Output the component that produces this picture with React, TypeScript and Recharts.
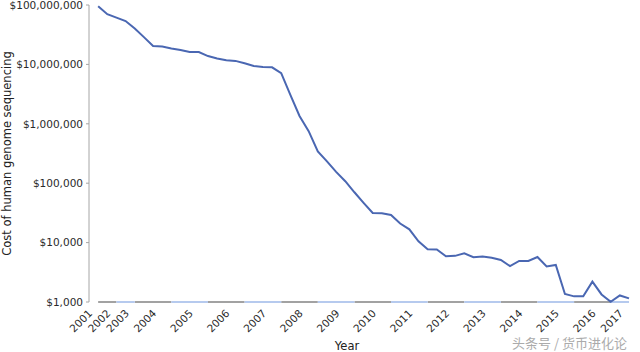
import React from "react";
import { LineChart, Line, XAxis, YAxis, Label } from "recharts";

// cost per genome, one value per release (Sept 2001 -> 2017)
const costs: number[] = [
  95263072, 70175437, 61448422, 53751684, 40157554, 28780376, 20442576,
  19934346, 18519312, 17534970, 16159699, 16180224, 13801124, 12585659,
  11732535, 11455315, 10474556, 9408739, 9047003, 8927342, 7147571, 3063820,
  1352982, 752080, 342502, 232735, 154714, 108065, 70333, 46774, 31512, 31125,
  29092, 20963, 16712, 10497, 7743, 7666, 5901, 5985, 6618, 5671, 5826, 5550,
  5096, 4008, 4920, 4905, 5731, 3970, 4211, 1363, 1245, 1245, 2200, 1340, 1010,
  1290, 1150,
];

// where each year label sits on the point index axis
const yearTicks: number[] = [-1, 1, 3, 6, 10, 14, 18, 22, 26, 30, 34, 38, 42, 46, 50, 54, 57];
const yearLabels: string[] = [
  "2001", "2002", "2003", "2004", "2005", "2006", "2007", "2008", "2009",
  "2010", "2011", "2012", "2013", "2014", "2015", "2016", "2017",
];

const costTicks: number[] = [1000, 10000, 100000, 1000000, 10000000, 100000000];

// baseline stretches at $1,000 (index ranges), grey and light blue in turn
const greyBands: [number, number][] = [
  [0, 2], [4, 8], [12, 16], [20, 24], [28, 32], [36, 40], [44, 48], [52, 56],
];
const blueBands: [number, number][] = [
  [2, 4], [8, 12], [16, 20], [24, 28], [32, 36], [40, 44], [48, 52], [56, 58],
];
const baseValue = 1000;

const inBand = (bands: [number, number][], i: number) =>
  bands.some(([a, b]) => i >= a && i <= b) ? baseValue : null;

const data = costs.map((c, i) => ({
  i,
  cost: c,
  grey: inBand(greyBands, i),
  blue: inBand(blueBands, i),
}));

const FONT = "'DejaVu Sans', Verdana, sans-serif";

const fmtMoney = (v: number) => "$" + v.toLocaleString("en-US");

function YearTick(props: any) {
  const { x, y, payload } = props;
  const idx = yearTicks.indexOf(payload.value);
  return (
    <text
      x={x + 4}
      y={y + 4}
      transform={`rotate(-45, ${x + 4}, ${y + 4})`}
      textAnchor="end"
      fontSize={10.5}
      fontFamily={FONT}
      fill="#2a2a2a"
    >
      {idx >= 0 ? yearLabels[idx] : ""}
    </text>
  );
}

export default function App() {
  return (
    <div style={{ position: "absolute", left: 0, top: 0, width: 640, height: 352, background: "#fff" }}>
      <LineChart
        width={640}
        height={352}
        data={data}
        margin={{ top: 5, right: 11, bottom: 0, left: 0 }}
      >
        <XAxis
          dataKey="i"
          type="number"
          domain={[-1, 58]}
          ticks={yearTicks}
          interval={0}
          height={50}
          axisLine={false}
          tickLine={false}
          tick={<YearTick />}
        >
          <Label
            value="Year"
            position="insideBottom"
            offset={2}
            dx={-12}
            style={{ fontSize: 11.5, fontFamily: FONT, fill: "#222" }}
          />
        </XAxis>
        <YAxis
          scale="log"
          domain={[1000, 100000000]}
          ticks={costTicks}
          interval={0}
          width={89}
          axisLine={{ stroke: "#a6a6a6" }}
          tickLine={{ stroke: "#a6a6a6" }}
          tickSize={3}
          tickMargin={3}
          tickFormatter={fmtMoney}
          tick={{ fontSize: 10.5, fontFamily: FONT, fill: "#2a2a2a" }}
        >
          <Label
            value="Cost of human genome sequencing"
            angle={-90}
            position="insideLeft"
            offset={7}
            style={{ textAnchor: "middle", fontSize: 11.5, fontFamily: FONT, fill: "#222" }}
          />
        </YAxis>
        <Line
          dataKey="grey"
          stroke="#a2a2a2"
          strokeWidth={2}
          dot={false}
          connectNulls={false}
          isAnimationActive={false}
        />
        <Line
          dataKey="blue"
          stroke="#b6caee"
          strokeWidth={2}
          dot={false}
          connectNulls={false}
          isAnimationActive={false}
        />
        <Line
          type="linear"
          dataKey="cost"
          stroke="#4a67b2"
          strokeWidth={2}
          dot={false}
          isAnimationActive={false}
        />
      </LineChart>
      <div
        style={{
          position: "absolute",
          left: 512,
          top: 333,
          fontSize: 13,
          fontFamily: "'Noto Sans CJK SC', sans-serif",
          color: "#ababab",
          whiteSpace: "nowrap",
        }}
      >
        头条号 / 货币进化论
      </div>
    </div>
  );
}
